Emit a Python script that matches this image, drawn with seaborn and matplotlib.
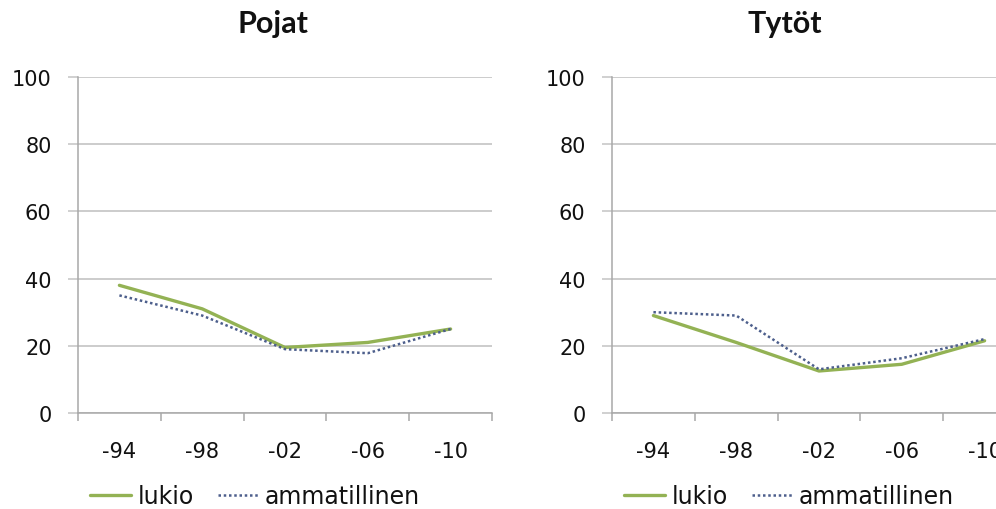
import matplotlib
matplotlib.use("Agg")
import matplotlib.pyplot as plt
import seaborn as sns
import pandas as pd
from matplotlib.lines import Line2D

years = ["-94", "-98", "-02", "-06", "-10"]
series_names = ["lukio", "ammatillinen"]
pojat_lukio = [38, 31, 19.5, 21, 25]
pojat_ammatillinen = [35, 29, 19, 17.8, 25]
tytot_lukio = [29, 21, 12.5, 14.5, 21.5]
tytot_ammatillinen = [30, 29, 13, 16.3, 22]
yticks = [0, 20, 40, 60, 80, 100]
titles = ["Pojat", "Tytöt"]

sns.set_theme(style="white")
plt.rcParams['font.family'] = ['DejaVu Sans']

GREEN = "#93b254"
BLUE = "#4d5f8c"
GRID = "#c4c4c4"
TXT = "#111111"

fig = plt.figure(figsize=(9.96, 5.10), dpi=100)
W, H = 996, 510
panels = [
    (titles[0], pojat_lukio, pojat_ammatillinen, 78, 273),
    (titles[1], tytot_lukio, tytot_ammatillinen, 612, 785),
]
for title, lk, am, left_px, title_x in panels:
    ax = fig.add_axes([left_px / W, 1 - 414 / H, 414 / W, 336 / H])
    df = pd.DataFrame({
        "vuosi": years * 2,
        "arvo": lk + am,
        "koulutus": [series_names[0]] * len(years) + [series_names[1]] * len(years),
    })
    sns.lineplot(data=df, x="vuosi", y="arvo", hue="koulutus", style="koulutus",
                 palette={series_names[0]: GREEN, series_names[1]: BLUE},
                 dashes={series_names[0]: "", series_names[1]: (1, 1.1)},
                 sort=False, ax=ax, legend=False, zorder=3)
    lines = ax.get_lines()
    lines[0].set_linewidth(2.4)
    lines[1].set_linewidth(1.8)
    ax.set_xlim(-0.5, 4.5)
    ax.set_ylim(0, 100)
    ax.set_yticks(yticks)
    ax.set_yticklabels([str(v) for v in yticks])
    ax.set_xticks(range(len(years)))
    ax.set_xticklabels(years)
    ax.set_xticks([i - 0.5 for i in range(len(years) + 1)], minor=True)
    ax.set_xlabel("")
    ax.set_ylabel("")
    ax.grid(axis="y", color=GRID, linewidth=1.2)
    ax.set_axisbelow(True)
    for s in ["top", "right"]:
        ax.spines[s].set_visible(False)
    for s in ["left", "bottom"]:
        ax.spines[s].set_visible(True)
        ax.spines[s].set_color("#a8a8a8")
        ax.spines[s].set_linewidth(1.1)
    ax.tick_params(axis="y", which="major", left=True, length=7.5, width=1.1,
                   color=GRID, labelsize=15, pad=11.5, labelcolor=TXT)
    ax.tick_params(axis="x", which="major", bottom=False, length=0,
                   labelsize=15, pad=20, labelcolor=TXT)
    ax.tick_params(axis="x", which="minor", bottom=True, length=6, width=1.1,
                   color="#a8a8a8")
    handles = [Line2D([], [], color=GREEN, lw=2.4),
               Line2D([], [], color=BLUE, lw=1.8, dashes=(1, 1.1))]
    ax.legend(handles, series_names, loc="center", bbox_to_anchor=(0.428, -0.247),
              ncol=2, frameon=False, fontsize=17, handlelength=1.7,
              handletextpad=0.3, columnspacing=1.0, labelcolor=TXT)
    fig.text(title_x / W, 1 - 24 / H, title, ha="center", va="center",
             fontsize=22, fontweight="bold", family=["Lato", "DejaVu Sans"],
             color=TXT)

fig.savefig("out.png", dpi=100, facecolor="white")
